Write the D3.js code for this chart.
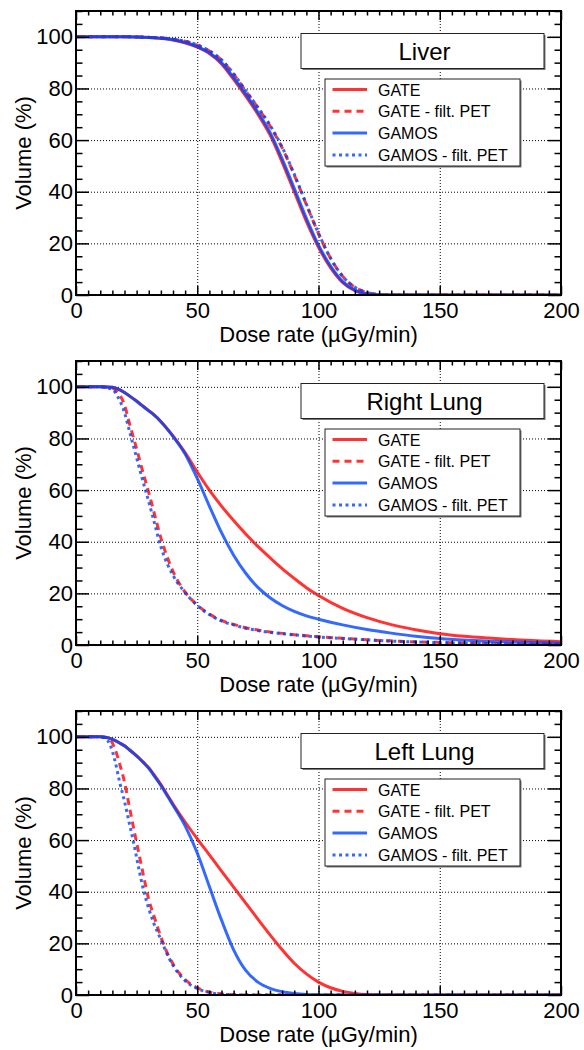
<!DOCTYPE html>
<html>
<head>
<meta charset="utf-8">
<script src="https://cdn.jsdelivr.net/npm/d3@7"></script>
<style>
  body { margin: 0; background: #fff; }
  text { font-family: "Liberation Sans", Arial, sans-serif; fill: #000; }
  .grid line { stroke: #000; stroke-width: 1; stroke-dasharray: 1,2; }
  .ticks line { stroke: #000; stroke-width: 1.5; }
</style>
</head>
<body>
<div id="chart"></div>
<script>
// dose rate (uGy/min) sample points, one per panel
var liverDose = [0,10,20,30,40,50,55,60,65,70,75,80,85,90,95,100,105,110,115,120,125,130,140,160,180,200];
var liverGate = [100,100,100,99.7,98.8,96,93.5,89.5,83.5,77,70,62,51.5,40,28.5,18.5,10.5,4.8,1.7,0.4,0,0,0,0,0,0];
var liverGateFilt = [100,100,100,99.8,99.1,96.8,94.5,91,85.5,79,72.5,65.5,57,46.5,35,23.8,14.2,7.2,3,1,0.2,0,0,0,0,0];
var liverGamos = [100,100,100,99.7,98.9,96.2,93.8,90,84.2,77.8,70.8,63,52.7,41.3,29.7,19.3,11.2,5.2,1.9,0.5,0.05,0,0,0,0,0];
var liverGamosFilt = [100,100,100,99.8,99.1,96.9,94.6,91.1,85.7,79.2,72.7,65.8,57.3,46.8,35.2,23.9,14.2,7.2,3,1,0.2,0,0,0,0,0];

var rLungDose = [0,10,15,17,20,22,25,27,30,32,35,40,45,50,55,60,65,70,75,80,85,90,95,100,110,120,130,140,150,160,170,180,190,200];
var rLungGate = [100,100,99.8,99.3,97.8,96.5,94.5,93,90.8,89.3,86.6,81,74.5,67,60,53.8,48.2,43,38.2,33.8,29.6,25.8,22.2,19.2,14.2,10.6,7.9,5.9,4.4,3.4,2.7,2.1,1.6,1.3];
var rLungGateFilt = [100,100,99.5,98,93,86,76,69,59,52,41.5,28.5,20.5,15.5,12,9.5,8,6.7,5.8,5,4.5,4,3.6,3.2,2.6,2,1.6,1.2,1,0.8,0.6,0.5,0.4,0.3];
var rLungGamos = [100,100,99.8,99.3,97.8,96.5,94.4,92.9,90.7,89.2,86.5,80.8,74,64.5,53.8,43.5,34.8,27.8,22.3,18.3,15.3,13,11.3,10,7.8,6,4.6,3.4,2.5,1.9,1.5,1.2,0.9,0.7];
var rLungGamosFilt = [100,100,99,96.5,90,83,72.5,65.5,55.5,48.5,38,27,20.3,15.3,11.8,9.3,7.8,6.5,5.6,4.9,4.4,3.9,3.5,3.1,2.5,2,1.5,1.2,0.9,0.7,0.6,0.5,0.4,0.3];

var lLungDose = [0,10,12,14,16,18,20,22,24,26,28,30,32,35,38,40,45,50,55,60,65,70,75,80,85,90,95,100,105,110,115,120,130,150,200];
var lLungGate = [100,100,99.8,99.4,98.6,97.6,96.5,95,93.5,91.8,90,88,85.5,81.5,77,74,67,60.5,54.3,48,41.8,35.6,29.4,23.3,17.5,12.3,8.2,5,2.8,1.4,0.6,0.2,0,0,0];
var lLungGateFilt = [100,100,99.8,99,95.5,89.5,82.5,73,63.5,54.5,45.5,37,31,22.5,15.5,12,6,2.8,1.1,0.4,0.1,0,0,0,0,0,0,0,0,0,0,0,0,0,0];
var lLungGamos = [100,100,99.8,99.4,98.6,97.6,96.5,95,93.4,91.7,89.8,87.8,85.2,81.2,76.6,73.5,65.5,55,42,29,17.5,9.5,5,2.6,1.3,0.6,0.2,0.05,0,0,0,0,0,0,0];
var lLungGamosFilt = [100,100,99.5,97,91,82.5,75,66.5,58,48.5,40,33.5,28,21.5,15,11.5,5.5,2.5,1,0.3,0.1,0,0,0,0,0,0,0,0,0,0,0,0,0,0];

var panelTitles = ["Liver", "Right Lung", "Left Lung"];
var legendLabels = ["GATE", "GATE - filt. PET", "GAMOS", "GAMOS - filt. PET"];
var xTicks = [0, 50, 100, 150, 200];
var yTicks = [0, 20, 40, 60, 80, 100];

var panels = [
    {dose: liverDose, series: [liverGate, liverGateFilt, liverGamos, liverGamosFilt]},
    {dose: rLungDose, series: [rLungGate, rLungGateFilt, rLungGamos, rLungGamosFilt]},
    {dose: lLungDose, series: [lLungGate, lLungGateFilt, lLungGamos, lLungGamosFilt]}
];

// line style per series, same order as legendLabels
var styles = [
    {color: "#ff0000", dash: null},
    {color: "#ff0000", dash: "7,5"},
    {color: "#0044ff", dash: null},
    {color: "#0044ff", dash: "3,3.5"}
];

var W = 584, H = 1050, panelH = 350;
var margin = {top: 11, left: 76},
    width = 485,
    height = 284;

var svg = d3.select("#chart").append("svg")
    .attr("width", W)
    .attr("height", H);

var x = d3.scaleLinear().domain([0, 200]).range([0, width]);
var y = d3.scaleLinear().domain([0, 110]).range([height, 0]);

var xMinor = d3.range(0, 201, 5).filter(function(d) { return d % 50 != 0; });
var yMinor = d3.range(0, 111, 5).filter(function(d) { return d % 20 != 0; });

panels.forEach(function(p, i) {
    var g = svg.append("g")
        .attr("transform", "translate(" + margin.left + "," + (i * panelH + margin.top) + ")");

    g.append("clipPath").attr("id", "clip" + i)
        .append("rect").attr("width", width).attr("height", height);

    // gridlines
    g.append("g").attr("class", "grid")
        .attr("transform", "translate(0," + height + ")")
        .call(d3.axisBottom(x).tickValues([50, 100, 150]).tickSize(-height).tickFormat(""))
        .call(function(s) { s.select(".domain").remove(); });
    g.append("g").attr("class", "grid")
        .call(d3.axisLeft(y).tickValues([20, 40, 60, 80, 100]).tickSize(-width).tickFormat(""))
        .call(function(s) { s.select(".domain").remove(); });

    // curves
    var line = d3.line()
        .x(function(d) { return x(d[0]); })
        .y(function(d) { return y(d[1]); })
        .curve(d3.curveMonotoneX);

    var curves = g.append("g").attr("clip-path", "url(#clip" + i + ")");
    p.series.forEach(function(vals, k) {
        var pts = p.dose.map(function(d, j) { return [d, vals[j]]; });
        curves.append("path")
            .datum(pts)
            .attr("d", line)
            .attr("fill", "none")
            .attr("stroke", styles[k].color)
            .attr("stroke-opacity", 0.8)
            .attr("stroke-width", 3)
            .attr("stroke-dasharray", styles[k].dash);
    });

    // ticks on all four sides, pointing inward
    function ticks(axis, transform) {
        g.append("g").attr("class", "ticks")
            .attr("transform", transform)
            .call(axis)
            .call(function(s) { s.select(".domain").remove(); });
    }
    ticks(d3.axisBottom(x).tickValues(xMinor).tickSize(-4.5).tickFormat(""), "translate(0," + height + ")");
    ticks(d3.axisTop(x).tickValues(xMinor).tickSize(-4.5).tickFormat(""), "translate(0,0)");
    ticks(d3.axisTop(x).tickValues(xTicks).tickSize(-9).tickFormat(""), "translate(0,0)");
    ticks(d3.axisLeft(y).tickValues(yMinor).tickSize(-6.5).tickFormat(""), "translate(0,0)");
    ticks(d3.axisRight(y).tickValues(yMinor).tickSize(-6.5).tickFormat(""), "translate(" + width + ",0)");
    ticks(d3.axisRight(y).tickValues(yTicks).tickSize(-13).tickFormat(""), "translate(" + width + ",0)");

    // labelled axes
    g.append("g").attr("class", "ticks")
        .attr("transform", "translate(0," + height + ")")
        .call(d3.axisBottom(x).tickValues(xTicks).tickSize(-9).tickPadding(7))
        .call(function(s) {
            s.select(".domain").remove();
            s.selectAll("text").style("font-size", "22px").attr("font-family", null);
        });
    g.append("g").attr("class", "ticks")
        .call(d3.axisLeft(y).tickValues(yTicks).tickSize(-13).tickPadding(3))
        .call(function(s) {
            s.select(".domain").remove();
            s.selectAll("text").style("font-size", "22px").attr("font-family", null);
        });

    // frame
    g.append("rect")
        .attr("width", width)
        .attr("height", height)
        .attr("fill", "none")
        .attr("stroke", "#000")
        .attr("stroke-width", 2);

    // axis titles
    g.append("text")
        .attr("x", width / 2)
        .attr("y", 331)
        .attr("text-anchor", "middle")
        .style("font-size", "22px")
        .text("Dose rate (\u00b5Gy/min)");
    g.append("text")
        .attr("transform", "translate(" + (31 - margin.left) + "," + (height / 2) + ") rotate(-90)")
        .attr("text-anchor", "middle")
        .style("font-size", "22px")
        .text("Volume (%)");

    // title box
    var tb = {x: 301 - margin.left, y: 22.5, w: 243, h: 35};
    boxWithShadow(g, tb);
    g.append("text")
        .attr("x", tb.x + tb.w / 2 + 2)
        .attr("y", tb.y + 26)
        .attr("text-anchor", "middle")
        .style("font-size", "24px")
        .text(panelTitles[i]);

    // legend
    var lb = {x: 325 - margin.left, y: 68, w: 195, h: 87};
    boxWithShadow(g, lb);
    legendLabels.forEach(function(lbl, k) {
        var cy = lb.y + 10.5 + k * 21.8;
        g.append("line")
            .attr("x1", 332.5 - margin.left).attr("x2", 367 - margin.left)
            .attr("y1", cy).attr("y2", cy)
            .attr("stroke", styles[k].color)
            .attr("stroke-opacity", 0.8)
            .attr("stroke-width", 3)
            .attr("stroke-dasharray", styles[k].dash);
        g.append("text")
            .attr("x", 378 - margin.left)
            .attr("y", cy + 6)
            .style("font-size", "16px")
            .text(lbl);
    });
});

function boxWithShadow(g, b) {
    g.append("rect")
        .attr("x", b.x + 1.5).attr("y", b.y + 1.5)
        .attr("width", b.w).attr("height", b.h)
        .attr("fill", "#777");
    g.append("rect")
        .attr("x", b.x).attr("y", b.y)
        .attr("width", b.w).attr("height", b.h)
        .attr("fill", "#fff")
        .attr("stroke", "#222")
        .attr("stroke-width", 1);
}
</script>
</body>
</html>
